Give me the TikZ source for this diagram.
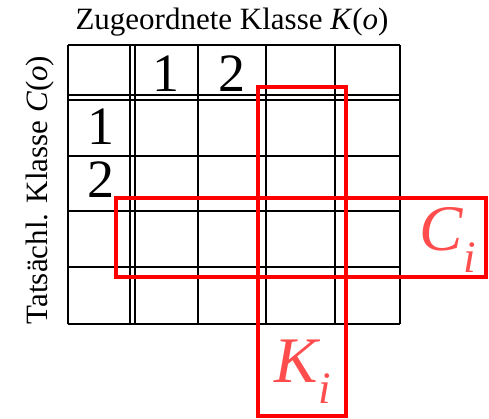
\documentclass[tikz,border=0pt]{standalone}
\usepackage{fontspec}
\setmainfont{Liberation Serif}
\begin{document}
\begin{tikzpicture}[x=1pt,y=-1pt,
  gridline/.style={line width=1.3pt,black},
  redbox/.style={draw=red,line width=3.8pt},
  redlabel/.style={text=red!70!white,font=\fontsize{65}{70}\selectfont\itshape},
  digit/.style={font=\fontsize{54}{60}\selectfont,inner sep=0pt},
  axislabel/.style={font=\fontsize{31}{34}\selectfont,inner sep=0pt}]
\useasboundingbox (0,0) rectangle (489,418);
% grid
\foreach \x in {68,130,135,198,266,335,400}
  \draw[gridline] (\x,45) -- (\x,324);
\foreach \y in {45,95,100,156,211,267,324}
  \draw[gridline] (68,\y) -- (400,\y);
% labels
\node[axislabel] (title) at (232,22) {Zugeordnete Klasse \textit{K}(\textit{o})};
\node[axislabel,rotate=90] (side) at (40,190) {Tatsächl. Klasse \textit{C}(\textit{o})};
\node[digit] (c1) at (166,74) {1};
\node[digit] (c2) at (232,74) {2};
\node[digit] (r1) at (101,127) {1};
\node[digit] (r2) at (101,180) {2};
% red boxes
\draw[redbox] (258,87) rectangle (346,416);
\draw[redbox] (116,198) rectangle (486,277);
\node[redlabel] (ci) at (448,240) {C\textsubscript{\fontsize{45}{50}\selectfont i}};
\node[redlabel] (ki) at (303,372) {K\textsubscript{\fontsize{45}{50}\selectfont i}};
\end{tikzpicture}
\end{document}
